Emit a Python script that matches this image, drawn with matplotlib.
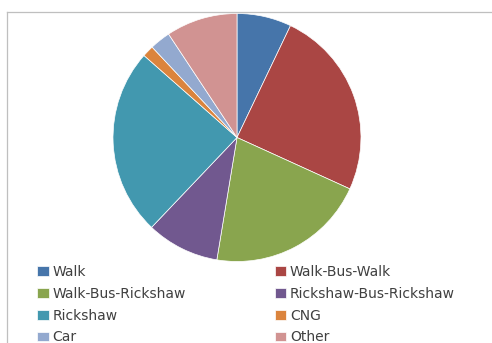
import matplotlib
matplotlib.use("Agg")
import matplotlib.pyplot as plt
from matplotlib.lines import Line2D

# Trip mode shares (percent)
modes = ["Walk", "Walk-Bus-Walk", "Walk-Bus-Rickshaw", "Rickshaw-Bus-Rickshaw",
         "Rickshaw", "CNG", "Car", "Other"]
shares = [7.1, 24.7, 20.8, 9.5, 24.4, 1.5, 2.7, 9.3]
colors = ["#4675AA", "#AA4644", "#89A54E", "#71588F",
          "#4298AF", "#DB843D", "#93A9CF", "#D19392"]

W, H = 492, 343
fig = plt.figure(figsize=(W / 100, H / 100), dpi=100)

# chart area border (top and left only visible)
fig.add_artist(Line2D([7 / W, 1], [1 - 12 / H, 1 - 12 / H], transform=fig.transFigure,
                      color="#bfbfbf", lw=0.9))
fig.add_artist(Line2D([7 / W, 7 / W], [0, 1 - 12 / H], transform=fig.transFigure,
                      color="#bfbfbf", lw=0.9))

cx, cy, r = 237, 137.5, 124
ax = fig.add_axes([(cx - r) / W, (H - cy - r) / H, 2 * r / W, 2 * r / H])
wedges, _ = ax.pie(shares, colors=colors, startangle=90, counterclock=False,
                   radius=1.0, wedgeprops=dict(edgecolor="white", linewidth=0.5))
ax.set_xlim(-1, 1)
ax.set_ylim(-1, 1)
ax.set_aspect("equal")
ax.axis("off")

# legend laid out row by row: Walk | Walk-Bus-Walk, ...
order = [0, 2, 4, 6, 1, 3, 5, 7]
leg = fig.legend([wedges[i] for i in order], [modes[i] for i in order],
                 ncol=2, loc="upper left", bbox_to_anchor=(37 / W, 1 - 265 / H),
                 frameon=False, fontsize=10, borderpad=0, borderaxespad=0,
                 handlelength=0.85, handleheight=0.7, handletextpad=0.25,
                 labelspacing=0.56, columnspacing=6.4)
for t in leg.get_texts():
    t.set_color("#404040")

fig.savefig("out.png", dpi=100)
